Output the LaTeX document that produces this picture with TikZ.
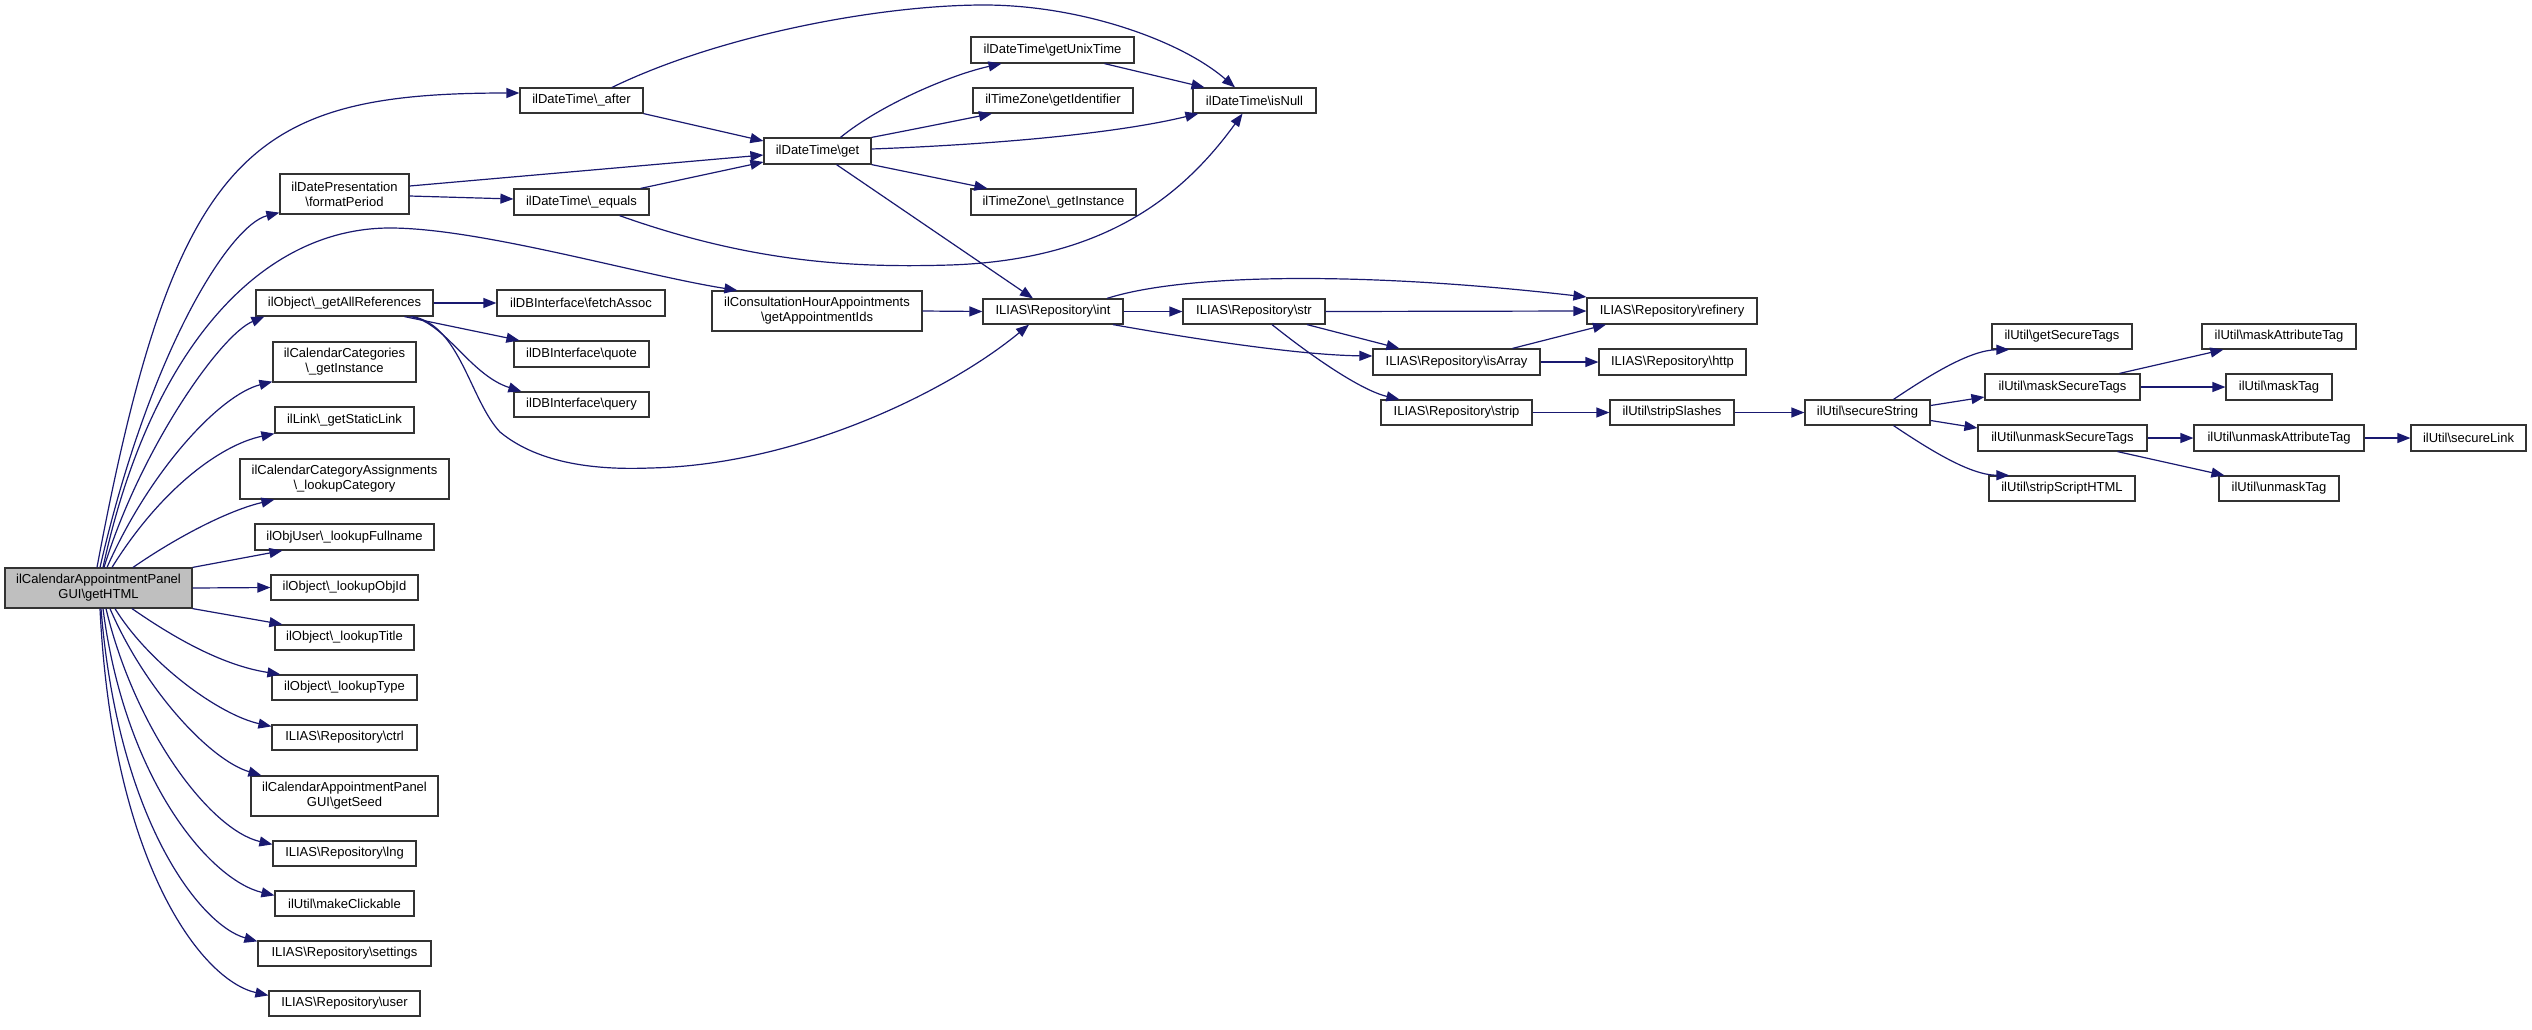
\documentclass[tikz,border=0pt]{standalone}
\usepackage{fontspec}
\setmainfont{Liberation Sans}
\usetikzlibrary{arrows.meta}
\definecolor{edgec}{HTML}{191970}
\definecolor{boxc}{HTML}{333333}
\definecolor{mainfill}{HTML}{BFBFBF}
\newcommand\bsl{\textbackslash}
\begin{document}
\begin{tikzpicture}[x=1pt,y=-1pt,
  fn/.style={draw=boxc, line width=1.2pt, fill=white, inner sep=0pt, align=center, font=\fontsize{13}{15}\selectfont},
  ed/.style={draw=edgec, line width=1.2pt, -{Triangle[length=13pt,width=10pt]}}]
\useasboundingbox[fill=white] (0,0) rectangle (2532,1029);
% nodes
\node[fn, fill=mainfill, minimum width=187, minimum height=40] (main) at (98.5,588) {ilCalendarAppointmentPanel\\GUI\bsl getHTML};
\node[fn, minimum width=123, minimum height=25] (after) at (581.5,100.5) {ilDateTime\bsl\_after};
\node[fn, minimum width=129, minimum height=40] (fp) at (344.5,194) {ilDatePresentation\\\bsl formatPeriod};
\node[fn, minimum width=135, minimum height=26] (eq) at (581.5,202) {ilDateTime\bsl\_equals};
\node[fn, minimum width=177, minimum height=26] (gar) at (344.5,303) {ilObject\bsl\_getAllReferences};
\node[fn, minimum width=168, minimum height=26] (fa) at (581,303) {ilDBInterface\bsl fetchAssoc};
\node[fn, minimum width=135, minimum height=26] (qu) at (581.5,354) {ilDBInterface\bsl quote};
\node[fn, minimum width=135, minimum height=25] (qy) at (581.5,404.5) {ilDBInterface\bsl query};
\node[fn, minimum width=143, minimum height=40] (cgi) at (344.5,362) {ilCalendarCategories\\\bsl\_getInstance};
\node[fn, minimum width=139, minimum height=26] (sl) at (344.5,420) {ilLink\bsl\_getStaticLink};
\node[fn, minimum width=209, minimum height=40] (lc) at (344.5,479) {ilCalendarCategoryAssignments\\\bsl\_lookupCategory};
\node[fn, minimum width=179, minimum height=26] (lf) at (344.5,537) {ilObjUser\bsl\_lookupFullname};
\node[fn, minimum width=147, minimum height=25] (loi) at (344.5,587.5) {ilObject\bsl\_lookupObjId};
\node[fn, minimum width=139, minimum height=25] (lt) at (344.5,637.5) {ilObject\bsl\_lookupTitle};
\node[fn, minimum width=145, minimum height=25] (lty) at (344.5,687.5) {ilObject\bsl\_lookupType};
\node[fn, minimum width=145, minimum height=25] (ctrl) at (344.5,737.5) {ILIAS\bsl Repository\bsl ctrl};
\node[fn, minimum width=187, minimum height=40] (gs) at (344.5,796) {ilCalendarAppointmentPanel\\GUI\bsl getSeed};
\node[fn, minimum width=143, minimum height=25] (lng) at (344.5,853.5) {ILIAS\bsl Repository\bsl lng};
\node[fn, minimum width=139, minimum height=25] (mc) at (344.5,903.5) {ilUtil\bsl makeClickable};
\node[fn, minimum width=173, minimum height=25] (set) at (344.5,953.5) {ILIAS\bsl Repository\bsl settings};
\node[fn, minimum width=151, minimum height=25] (usr) at (344.5,1003.5) {ILIAS\bsl Repository\bsl user};
\node[fn, minimum width=163, minimum height=26] (gut) at (1052.5,50) {ilDateTime\bsl getUnixTime};
\node[fn, minimum width=160, minimum height=25] (gid) at (1053,100.5) {ilTimeZone\bsl getIdentifier};
\node[fn, minimum width=123, minimum height=25] (isn) at (1254.5,100.5) {ilDateTime\bsl isNull};
\node[fn, minimum width=107, minimum height=26] (get) at (817.5,151) {ilDateTime\bsl get};
\node[fn, minimum width=165, minimum height=26] (tzi) at (1053.5,202) {ilTimeZone\bsl\_getInstance};
\node[fn, minimum width=210, minimum height=40] (gai) at (817,311) {ilConsultationHourAppointments\\\bsl getAppointmentIds};
\node[fn, minimum width=140, minimum height=25] (int) at (1053,311.5) {ILIAS\bsl Repository\bsl int};
\node[fn, minimum width=142, minimum height=25] (str) at (1254,311.5) {ILIAS\bsl Repository\bsl str};
\node[fn, minimum width=170, minimum height=26] (ref) at (1672,311) {ILIAS\bsl Repository\bsl refinery};
\node[fn, minimum width=167, minimum height=26] (isa) at (1456.5,362) {ILIAS\bsl Repository\bsl isArray};
\node[fn, minimum width=147, minimum height=26] (http) at (1672.5,362) {ILIAS\bsl Repository\bsl http};
\node[fn, minimum width=151, minimum height=25] (strip) at (1456.5,412.5) {ILIAS\bsl Repository\bsl strip};
\node[fn, minimum width=124, minimum height=25] (ss) at (1672,412.5) {ilUtil\bsl stripSlashes};
\node[fn, minimum width=125, minimum height=25] (sec) at (1867.5,412.5) {ilUtil\bsl secureString};
\node[fn, minimum width=140, minimum height=25] (gst) at (2062,336.5) {ilUtil\bsl getSecureTags};
\node[fn, minimum width=155, minimum height=26] (mst) at (2062.5,387) {ilUtil\bsl maskSecureTags};
\node[fn, minimum width=169, minimum height=26] (ust) at (2062.5,438) {ilUtil\bsl unmaskSecureTags};
\node[fn, minimum width=146, minimum height=25] (ssh) at (2062,488.5) {ilUtil\bsl stripScriptHTML};
\node[fn, minimum width=154, minimum height=25] (mat) at (2279,336.5) {ilUtil\bsl maskAttributeTag};
\node[fn, minimum width=106, minimum height=26] (mt) at (2279,387) {ilUtil\bsl maskTag};
\node[fn, minimum width=170, minimum height=26] (uat) at (2279,438) {ilUtil\bsl unmaskAttributeTag};
\node[fn, minimum width=120, minimum height=25] (ut) at (2279,488.5) {ilUtil\bsl unmaskTag};
\node[fn, minimum width=115, minimum height=26] (sli) at (2468.5,438) {ilUtil\bsl secureLink};
% edges from main (upwards)
\draw[ed] ([xshift=-1.5]main.north) .. controls (175,150) and (250,93) .. ([yshift=7.5]after.west);
\draw[ed] ([xshift=1.5]main.north) .. controls (150,350) and (230,225) .. ([yshift=2]fp.south west);
\draw[ed] ([xshift=4.5]main.north) .. controls (150,350) and (260,228) .. (390,228) .. controls (480,228) and (640,275) .. ([xshift=26]gai.north west);
\draw[ed] ([xshift=5.5]main.north) .. controls (140,450) and (220,335) .. ([xshift=9]gar.south west);
\draw[ed] ([xshift=8.5]main.north) .. controls (150,470) and (220,395) .. ([yshift=1]cgi.south west);
\draw[ed] ([xshift=13.5]main.north) .. controls (160,490) and (220,445) .. (sl.south west);
\draw[ed] ([xshift=34.5]main.north) .. controls (180,535) and (230,510) .. ([xshift=35]lc.south west);
\draw[ed] (main.north east) -- ([xshift=28]lf.south west);
\draw[ed] (main.east) -- (loi.west);
\draw[ed] (main.south east) -- ([xshift=8]lt.north west);
% edges from main (downwards)
\draw[ed] ([xshift=33.5]main.south) .. controls (170,635) and (220,665) .. ([xshift=9]lty.north west);
\draw[ed] ([xshift=16.5]main.south) .. controls (150,665) and (220,715) .. ([yshift=-2]ctrl.north west);
\draw[ed] ([xshift=11.5]main.south) .. controls (145,690) and (210,760) .. ([xshift=11]gs.north west);
\draw[ed] ([xshift=7.5]main.south) .. controls (135,730) and (210,830) .. ([yshift=-4]lng.north west);
\draw[ed] ([xshift=4.5]main.south) .. controls (125,780) and (210,880) .. ([yshift=-5]mc.north west);
\draw[ed] ([xshift=2.5]main.south) .. controls (118,820) and (200,925) .. ([yshift=-1]set.north west);
\draw[ed] ([xshift=1.5]main.south) .. controls (112,860) and (200,980) .. ([yshift=-5]usr.north west);
% date time
\draw[ed] (after.south east) -- ([yshift=10]get.west);
\draw[ed] ([xshift=30.5]after.north) .. controls (720,35) and (880,5) .. (984,5) .. controls (1080,5) and (1180,40) .. ([xshift=-19.5]isn.north);
\draw[ed] ([yshift=8]fp.east) -- ([yshift=-4]get.west);
\draw[ed] ([yshift=-2]fp.east) -- ([yshift=3]eq.west);
\draw[ed] ([xshift=-9]eq.north east) -- ([yshift=-11]get.west);
\draw[ed] ([xshift=38]eq.south) .. controls (750,262) and (850,268) .. (950,265) .. controls (1100,260) and (1180,200) .. ([xshift=-12]isn.south);
\draw[ed] ([xshift=23]get.north) .. controls (880,105) and (950,75) .. ([xshift=-51]gut.south);
\draw[ed] (get.north east) .. controls (910,130) and (950,122) .. ([xshift=-61]gid.south);
\draw[ed] ([yshift=2]get.east) .. controls (980,145) and (1110,135) .. ([xshift=6]isn.south west);
\draw[ed] (get.south east) -- ([xshift=17]tzi.north west);
\draw[ed] ([xshift=19]get.south) -- ([xshift=-20]int.north);
\draw[ed] ([xshift=52]gut.south) -- ([xshift=-50]isn.north);
% references
\draw[ed] (gai.east) -- (int.west);
\draw[ed] (gar.east) -- (fa.west);
\draw[ed] ([xshift=60]gar.south) -- ([xshift=6]qu.north west);
\draw[ed] ([xshift=66]gar.south) .. controls (445,322) and (470,375) .. ([xshift=8]qy.north west);
\draw[ed] ([xshift=68]gar.south) .. controls (460,325) and (470,400) .. (500,432) .. controls (540,465) and (600,470) .. (650,468) .. controls (800,465) and (950,390) .. ([xshift=-24]int.south);
% repository
\draw[ed] (int.east) -- (str.west);
\draw[ed] ([xshift=54]int.north) .. controls (1180,275) and (1350,270) .. ([yshift=14]ref.west);
\draw[ed] ([xshift=60]int.south) .. controls (1200,340) and (1300,355) .. ([yshift=6]isa.west);
\draw[ed] (str.east) -- (ref.west);
\draw[ed] ([xshift=53]str.south) -- ([xshift=27]isa.north west);
\draw[ed] ([xshift=18]str.south) .. controls (1310,355) and (1360,390) .. ([xshift=19]strip.north west);
\draw[ed] ([xshift=56]isa.north) -- ([xshift=-66]ref.south);
\draw[ed] (isa.east) -- (http.west);
\draw[ed] (strip.east) -- (ss.west);
\draw[ed] (ss.east) -- (sec.west);
% util
\draw[ed] ([xshift=26]sec.north) .. controls (1930,375) and (1970,350) .. ([xshift=18]gst.south west);
\draw[ed] ([yshift=7]sec.east) -- ([yshift=-10]mst.west);
\draw[ed] ([yshift=-8]sec.east) -- ([yshift=10]ust.west);
\draw[ed] ([xshift=26]sec.south) .. controls (1930,450) and (1970,475) .. ([xshift=21]ssh.north west);
\draw[ed] ([xshift=57]mst.north) -- ([xshift=22]mat.south west);
\draw[ed] (mst.east) -- (mt.west);
\draw[ed] (ust.east) -- (uat.west);
\draw[ed] ([xshift=55]ust.south) -- ([xshift=6]ut.north west);
\draw[ed] (uat.east) -- (sli.west);
\end{tikzpicture}
\end{document}
